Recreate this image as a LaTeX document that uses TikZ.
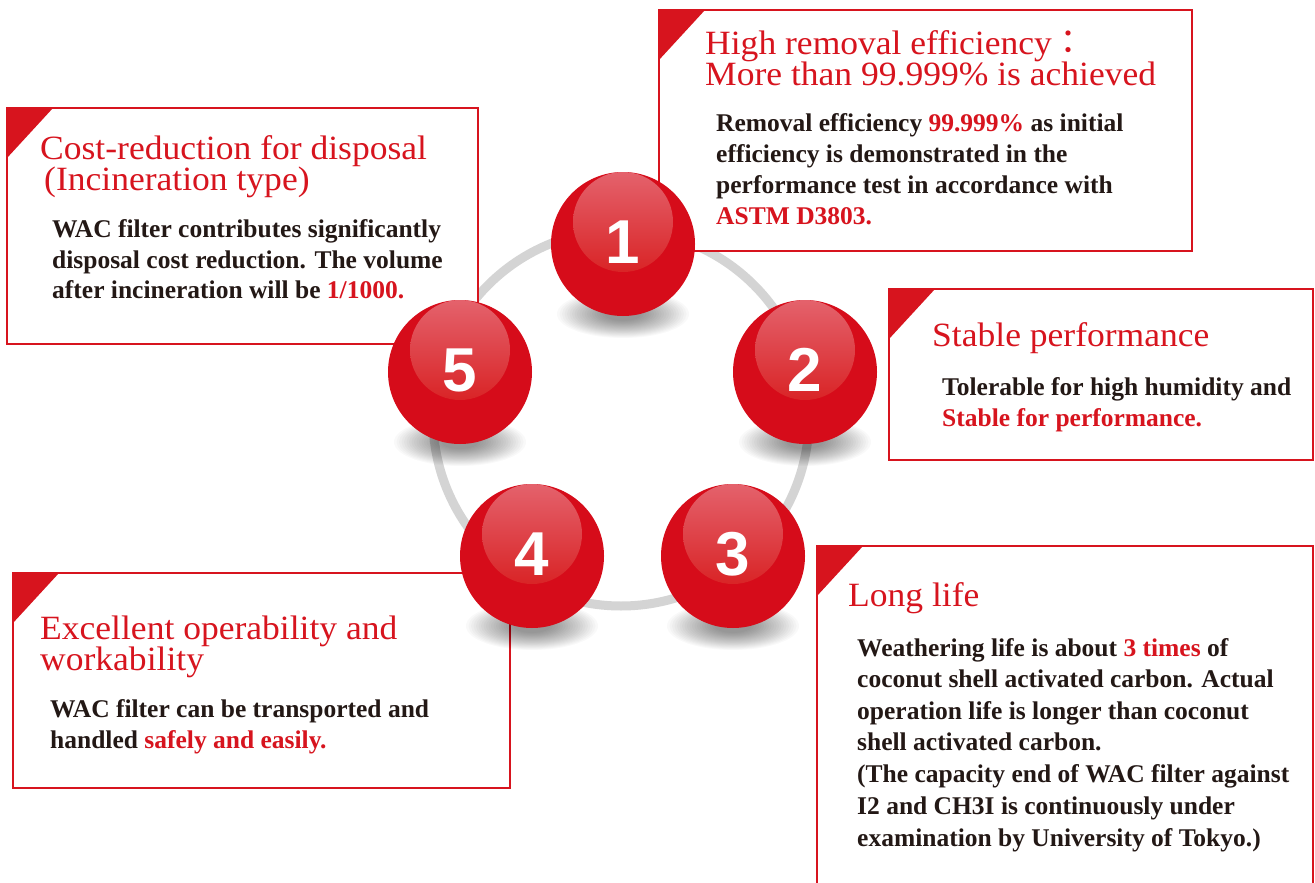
\documentclass[tikz,border=0pt]{standalone}
\usepackage{fontspec}
\setmainfont{Liberation Serif}
\newfontfamily\numfont{Liberation Sans}
\newfontfamily\titlefam[FakeStretch=1.045]{Liberation Serif}
\newfontfamily\cjk{Noto Sans CJK JP}
\definecolor{ared}{RGB}{215,20,30}
\definecolor{ink}{RGB}{35,24,21}
\definecolor{ballred}{RGB}{214,12,26}
\definecolor{hitop}{RGB}{228,98,108}
\definecolor{hibot}{RGB}{217,36,38}
\definecolor{ringgray}{RGB}{212,212,212}
\newcommand{\R}[1]{\textcolor{ared}{#1}}
\newcommand{\titlefont}{\titlefam\fontsize{34}{31}\selectfont\lineskiplimit -20pt\relax}
\tikzset{
  title/.style={anchor=base west, inner sep=0pt, text=ared, align=left, font=\titlefont},
  body/.style={anchor=base west, inner sep=0pt, text=ink, font=\fontsize{25.5}{31}\selectfont\bfseries},
  frame/.style={draw=ared, line width=2.2pt},
  corner/.style={fill=ared},
  ball/.style={circle, fill=ballred, minimum size=144pt, inner sep=0pt},
  num/.style={inner sep=0pt, text=white, font=\numfont\bfseries\fontsize{62}{62}\selectfont},
  ringline/.style={draw=ringgray, line width=9pt},
}
\begin{document}
\begin{tikzpicture}[x=1pt, y=-1pt]
\useasboundingbox (0,0) rectangle (1315,883);
\fill[white] (0,0) rectangle (1315,883);

% ring
\coordinate (rc) at (621,418);
\draw[ringline] (rc) circle (188);

% box 1
\draw[frame, fill=white] (659,10) rectangle (1192,251);
\fill[corner] (659,10) -- ++(46,0) -- ++(-46,50) -- cycle;
\node[title] (t1) at (705,85) {High removal efficiency{\cjk ：}\\More than 99.999\% is achieved};
\node[body] (b1a) at (716,131) {Removal efficiency \R{99.999\%} as initial};
\node[body] (b1b) at (716,162) {efficiency is demonstrated in the};
\node[body] (b1c) at (716,193) {performance test in accordance with};
\node[body] (b1d) at (716,224) {\R{ASTM D3803.}};

% box 2
\draw[frame, fill=white] (889,289) rectangle (1313,460);
\fill[corner] (889,289) -- ++(46,0) -- ++(-46,50) -- cycle;
\node[title] (t2) at (932,346) {Stable performance};
\node[body] (b2a) at (942,395) {Tolerable for high humidity and};
\node[body] (b2b) at (942,426) {\R{Stable for performance.}};

% box 3
\draw[frame] (817,895) -- (817,546) -- (1313,546) -- (1313,895);
\fill[corner] (817,546) -- ++(46,0) -- ++(-46,50) -- cycle;
\node[title] (t3) at (848,606) {Long life};
\node[body] (b3a) at (857,656) {Weathering life is about \R{3 times} of};
\node[body] (b3b) at (857,687) {coconut shell activated carbon. Actual};
\node[body] (b3c) at (857,719) {operation life is longer than coconut};
\node[body] (b3d) at (857,750) {shell activated carbon.};
\node[body] (b3e) at (857,782) {(The capacity end of WAC filter against};
\node[body] (b3f) at (857,814) {I2 and CH3I is continuously under};
\node[body] (b3g) at (857,846) {examination by University of Tokyo.)};

% box 4
\draw[frame, fill=white] (13,573) rectangle (510,788);
\fill[corner] (13,573) -- ++(46,0) -- ++(-46,50) -- cycle;
\node[title] (t4) at (40,670) {Excellent operability and\\workability};
\node[body] (b4a) at (50,717) {WAC filter can be transported and};
\node[body] (b4b) at (50,748) {handled \R{safely and easily.}};

% box 5
\draw[frame, fill=white] (7,108) rectangle (478,344);
\fill[corner] (7,108) -- ++(46,0) -- ++(-46,50) -- cycle;
\node[title] (t5) at (40,190) {Cost-reduction for disposal\\\hspace*{4pt}(Incineration type)};
\node[body] (b5a) at (52,237) {WAC filter contributes significantly};
\node[body] (b5b) at (52,268) {disposal cost reduction. The volume};
\node[body] (b5c) at (52,298) {after incineration will be \R{1/1000.}};

% shadows
\foreach \cx/\cy in {623/244, 805/372, 733/556, 532/556, 460/372}{
  \foreach \i in {0,...,19}{
    \fill[black, opacity=0.025] (\cx,\cy+70) ellipse ({66-2.5*\i} and {24-0.9*\i});
  }
}

% balls
\foreach \nm/\cx/\cy/\lab in {p1/623/244/1, p2/805/372/2, p3/733/556/3, p4/532/556/4, p5/460/372/5}{
  \node[ball] (\nm) at (\cx,\cy) {};
  \shade[top color=hitop, bottom color=hibot] ([yshift=22pt]\nm.center) circle (50);
  \node[num] (\nm n) at ([yshift=2pt]\nm.center) {\lab};
}
\end{tikzpicture}
\end{document}
